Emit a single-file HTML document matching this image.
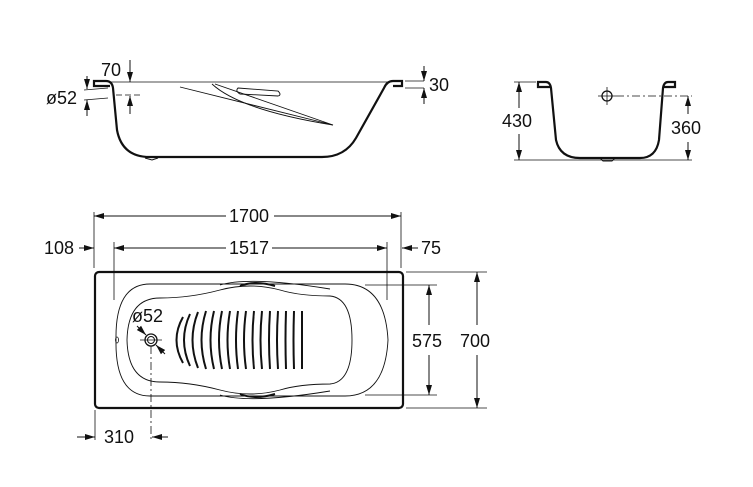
<!DOCTYPE html>
<html><head><meta charset="utf-8"><style>
html,body{margin:0;padding:0;background:#fff;width:753px;height:487px;overflow:hidden}
svg{display:block}
text{font-family:"Liberation Sans",Arial,sans-serif;font-size:18px;fill:#111}
</style></head><body>
<svg width="753" height="487" viewBox="0 0 753 487" xmlns="http://www.w3.org/2000/svg">
<defs>
<marker id="a" markerWidth="10" markerHeight="8" refX="10" refY="4" orient="auto" markerUnits="userSpaceOnUse">
<path d="M0,1 L10,4 L0,7 Z" fill="#111"/></marker>
</defs>
<g stroke="#111" fill="none">
<path d="M110,86 L94,86 L94,81 L106,81 Q112,81 113,88 L117,130 Q122,157 150,157 L322,157 Q345,157 356,138 L384,88 Q387,81 393,81 L402,81 L402,86 L393,86" stroke-width="2.2"/>
<line x1="110" y1="82" x2="390" y2="82" stroke-width="0.8"/>
<path d="M180,87 L333,125 L215,84" stroke-width="0.9"/>
<path d="M212,84 Q240,110 333,125" stroke-width="0.9"/>
<path d="M238,88 L278,91 Q282,95 278,96 L240,94 Q235,91 238,88 Z" stroke-width="0.9"/>
<path d="M145,158 L152,160 L158,158" stroke-width="1"/>
<line x1="130" y1="60" x2="130" y2="82" stroke-width="1" marker-end="url(#a)"/>
<line x1="130" y1="114" x2="130" y2="96" stroke-width="1" marker-end="url(#a)"/>
<line x1="116" y1="95" x2="140" y2="95" stroke-width="0.8" stroke-dasharray="6,3"/>
<line x1="87" y1="76" x2="87" y2="89" stroke-width="1" marker-end="url(#a)"/>
<line x1="87" y1="116" x2="87" y2="100" stroke-width="1" marker-end="url(#a)"/>
<line x1="84" y1="90" x2="108" y2="88" stroke-width="0.8"/>
<line x1="84" y1="100" x2="108" y2="98" stroke-width="0.8"/>
<line x1="405" y1="81" x2="424" y2="81" stroke-width="0.8"/>
<line x1="405" y1="88" x2="424" y2="88" stroke-width="0.8"/>
<line x1="424" y1="66" x2="424" y2="81" stroke-width="1" marker-end="url(#a)"/>
<line x1="424" y1="104" x2="424" y2="88" stroke-width="1" marker-end="url(#a)"/>
<path d="M550,87 L538,87 L538,82 L546,82 Q550,82 551,88 L556,140 Q560,158 580,158 L640,158 Q656,158 659,140 L663,88 Q664,82 668,82 L675,82 L675,87 L664,87" stroke-width="2.2"/>
<path d="M600,158 L603,161 L612,161 L615,158" stroke-width="1"/>
<circle cx="607" cy="96" r="5" stroke-width="1.3"/>
<line x1="598" y1="96" x2="616" y2="96" stroke-width="0.8"/>
<line x1="607" y1="87" x2="607" y2="105" stroke-width="0.8"/>
<line x1="616" y1="96" x2="692" y2="96" stroke-width="0.8" stroke-dasharray="8,3,2,3"/>
<line x1="514" y1="82" x2="536" y2="82" stroke-width="0.8"/>
<line x1="514" y1="160" x2="692" y2="160" stroke-width="0.8"/>
<line x1="519" y1="108" x2="519" y2="82" stroke-width="1" marker-end="url(#a)"/>
<line x1="519" y1="134" x2="519" y2="160" stroke-width="1" marker-end="url(#a)"/>
<line x1="688" y1="114" x2="688" y2="96" stroke-width="1" marker-end="url(#a)"/>
<line x1="688" y1="142" x2="688" y2="160" stroke-width="1" marker-end="url(#a)"/>
<rect x="95" y="272" width="308" height="136" rx="4" stroke-width="2.2"/>
<path d="M150,284 L345,284 Q385,284 388,340 Q385,396 345,396 L150,396 Q115,396 116,340 Q115,284 150,284 Z" stroke-width="0.9"/>
<path d="M160,298 Q190,298 220,290 Q250,282 280,290 Q300,296 330,296 Q352,298 352,340 Q352,382 330,384 Q300,384 280,390 Q250,398 220,390 Q190,382 160,382 Q128,382 127,340 Q128,298 160,298 Z" stroke-width="0.9"/>
<path d="M220,285 Q250,276 330,289" stroke-width="0.9"/>
<path d="M220,395 Q250,404 330,391" stroke-width="0.9"/>
<path d="M240,286 Q255,280 275,286" stroke-width="2"/>
<path d="M240,394 Q255,400 275,394" stroke-width="2"/>
<ellipse cx="117" cy="340" rx="1.5" ry="3" stroke-width="0.8"/>
<g stroke-width="2">
<path d="M183,317 Q170,340 183,363"/><path d="M190,314 Q178,340 190,366"/>
<path d="M198,312 Q187,340 198,368"/><path d="M206,311 Q197,340 206,369"/>
<path d="M214,311 Q207,340 214,369"/><path d="M222,311 Q216,340 222,369"/>
<path d="M230,311 Q225,340 230,369"/><path d="M238,311 Q234,340 238,369"/>
<path d="M246,311 Q242,340 246,369"/><path d="M254,311 Q251,340 254,369"/>
<path d="M262,311 Q259,340 262,369"/><path d="M270,311 Q268,340 270,369"/>
<path d="M278,311 Q276,340 278,369"/><path d="M286,311 Q285,340 286,369"/>
<path d="M294,311 Q293,340 294,369"/><path d="M302,311 L302,369"/>
</g>
<circle cx="151" cy="340" r="6" stroke-width="1.3"/>
<circle cx="151" cy="340" r="3.5" stroke-width="1"/>
<line x1="140" y1="340" x2="162" y2="340" stroke-width="0.8"/>
<line x1="151" y1="346" x2="151" y2="440" stroke-width="0.8" stroke-dasharray="8,3,2,3"/>
<line x1="137" y1="326" x2="146" y2="335" stroke-width="1" marker-end="url(#a)"/>
<line x1="165" y1="354" x2="156" y2="345" stroke-width="1" marker-end="url(#a)"/>
<line x1="94" y1="212" x2="94" y2="268" stroke-width="0.8"/>
<line x1="401" y1="212" x2="401" y2="268" stroke-width="0.8"/>
<line x1="114" y1="242" x2="114" y2="300" stroke-width="0.8"/>
<line x1="387" y1="242" x2="387" y2="300" stroke-width="0.8"/>
<line x1="226" y1="216" x2="94" y2="216" stroke-width="1" marker-end="url(#a)"/>
<line x1="274" y1="216" x2="401" y2="216" stroke-width="1" marker-end="url(#a)"/>
<line x1="226" y1="248" x2="114" y2="248" stroke-width="1" marker-end="url(#a)"/>
<line x1="272" y1="248" x2="387" y2="248" stroke-width="1" marker-end="url(#a)"/>
<line x1="79" y1="248" x2="94" y2="248" stroke-width="1" marker-end="url(#a)"/>
<line x1="418" y1="248" x2="402" y2="248" stroke-width="1" marker-end="url(#a)"/>
<line x1="365" y1="285" x2="437" y2="285" stroke-width="0.8"/>
<line x1="365" y1="395" x2="437" y2="395" stroke-width="0.8"/>
<line x1="406" y1="272" x2="487" y2="272" stroke-width="0.8"/>
<line x1="406" y1="408" x2="487" y2="408" stroke-width="0.8"/>
<line x1="429" y1="325" x2="429" y2="285" stroke-width="1" marker-end="url(#a)"/>
<line x1="429" y1="355" x2="429" y2="395" stroke-width="1" marker-end="url(#a)"/>
<line x1="477" y1="325" x2="477" y2="272" stroke-width="1" marker-end="url(#a)"/>
<line x1="477" y1="355" x2="477" y2="408" stroke-width="1" marker-end="url(#a)"/>
<line x1="95" y1="410" x2="95" y2="440" stroke-width="0.8"/>
<line x1="77" y1="437" x2="95" y2="437" stroke-width="1" marker-end="url(#a)"/>
<line x1="168" y1="437" x2="152" y2="437" stroke-width="1" marker-end="url(#a)"/>
</g>
<text x="101" y="76">70</text>
<text x="46" y="104">ø52</text>
<text x="429" y="91">30</text>
<text x="502" y="127">430</text>
<text x="671" y="134">360</text>
<text x="249" y="222" text-anchor="middle">1700</text>
<text x="249" y="254" text-anchor="middle">1517</text>
<text x="44" y="254">108</text>
<text x="421" y="254">75</text>
<text x="132" y="322">ø52</text>
<text x="412" y="347">575</text>
<text x="460" y="347">700</text>
<text x="104" y="443">310</text>
</svg>
</body></html>
